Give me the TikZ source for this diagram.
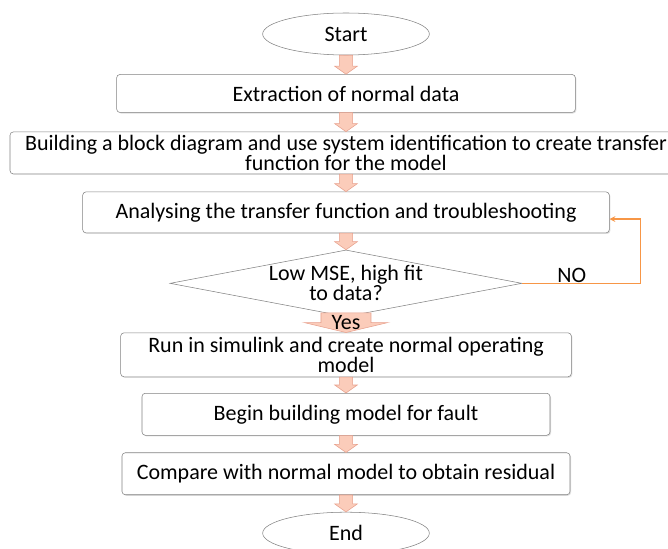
\documentclass[tikz,border=0pt]{standalone}
\usepackage{fontspec}
\setmainfont{Carlito}
\usepackage{tikz}
\usetikzlibrary{shapes.geometric, arrows, calc, shadows}
\definecolor{boxgray}{RGB}{130,130,130}
\definecolor{salmonfill}{RGB}{251,204,186}
\definecolor{salmonline}{RGB}{231,160,140}
\definecolor{noorange}{RGB}{247,150,70}
\tikzstyle{startstop} = [ellipse, minimum width=125pt, minimum height=31.5pt, text centered, draw=boxgray, fill=white]
\tikzstyle{process} = [rectangle, rounded corners=2.5pt, minimum height=31.5pt, inner ysep=0pt, text centered, align=center, draw=boxgray, fill=white, drop shadow={shadow xshift=0.8pt, shadow yshift=-0.8pt, fill=black!25}]
\tikzstyle{decision} = [diamond, aspect=5.28, minimum width=264pt, minimum height=50pt, inner sep=0pt, text centered, draw=boxgray, fill=white]
\tikzstyle{arrow} = [->,>=stealth]
\tikzset{
  fatarrow/.style n args={3}{draw=salmonline, fill=salmonfill, to path={
    let \p1=(\tikztostart), \p2=(\tikztotarget) in
    (\x1-#1,\y1) -- (\x1+#1,\y1) -- (\x1+#1,\y2+#3) -- (\x1+#2,\y2+#3) -- (\x1,\y2)
    -- (\x1-#2,\y2+#3) -- (\x1-#1,\y2+#3) -- cycle}},
  blockarrow/.style={fatarrow={5pt}{8.5pt}{6pt}},
  yesarrow/.style={fatarrow={18.75pt}{31.5pt}{7.5pt}}
}

\begin{document}
\begin{tikzpicture}[node distance=44.6pt, font=\fontsize{16.5}{15}\selectfont]
	\useasboundingbox (-259.5pt,25.5pt) rectangle (241.5pt,-386.25pt);
	\node (start) [startstop] {Start};
	\node (extract) [process, minimum width=344pt, minimum height=28.5pt, below of=start] {Extraction of normal data};
	\node (build) [process, minimum width=504pt, below of=extract] {Building a block diagram and use system identification to create transfer\\function for the model};
	\node (analyse) [process, minimum width=395pt, minimum height=30.75pt, below of=build] {Analysing the transfer function and troubleshooting};
	\node (check) [decision, below of=analyse, yshift=-8.6pt] {\smash{\raisebox{-4pt}{\parbox[c]{140pt}{\centering Low MSE, high fit\\to data?}}}};
	\node (simulink) [process, minimum width=338pt, minimum height=33pt, below of=check, yshift=-9pt] {Run in simulink and create normal operating\\model};
	\node (fault) [process, minimum width=306pt, below of=simulink] {Begin building model for fault};
	\node (compare) [process, minimum width=336pt, below of=fault] {Compare with normal model to obtain residual};
	\node (stop) [startstop, below of=compare] {End};
	
	\draw [blockarrow] (start.south) to (extract.north);
	\draw [blockarrow] (extract.south) to (build.north);
	\draw [blockarrow] (build.south) to (analyse.north);
	\draw [blockarrow] (analyse.south) to (check.north);
	\draw [yesarrow] ([yshift=3pt]check.south) to (simulink.north);
	\node (yes) at ([yshift=-4.5pt]check.south) {Yes};
	\draw [blockarrow] (simulink.south) to (fault.north);
	\draw [blockarrow] (fault.south) to (compare.north);
	\draw [blockarrow] (compare.south) to (stop.north);
	% loop back when the fit is poor
	\draw [arrow, noorange, line width=0.9pt] (check.east) -- node[above, pos=0.42, inner sep=0.5pt, yshift=-0.3pt, black] {NO} ++(88.5pt,0) |- ([yshift=-5pt]analyse.east);
\end{tikzpicture}
\end{document}
